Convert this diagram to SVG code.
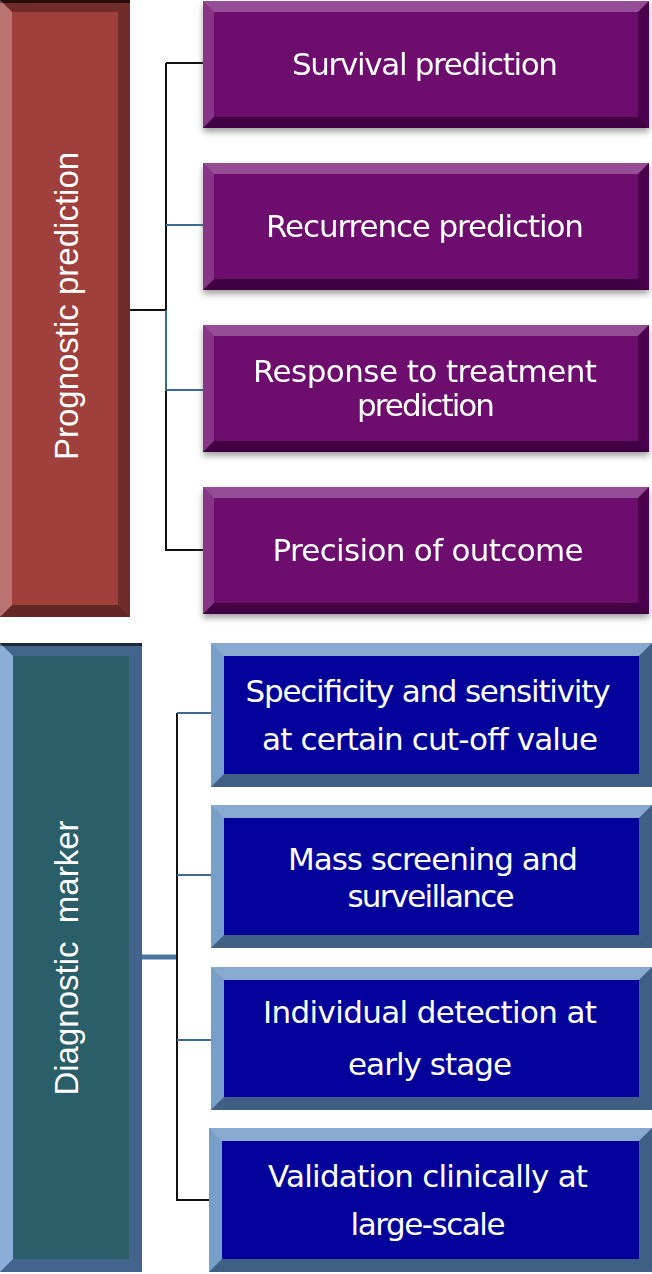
<svg xmlns="http://www.w3.org/2000/svg" width="652" height="1274" viewBox="0 0 652 1274">
<defs>
<filter id="sh" x="-5%" y="-10%" width="110%" height="130%">
<feDropShadow dx="0" dy="4" stdDeviation="3" flood-color="#555" flood-opacity="0.55"/>
</filter>
<style>
.bg{fill:#fff}
.hi{fill:#fff;fill-opacity:.28}
.lhi{fill:#fff;fill-opacity:.18}
.dk{fill:#000;fill-opacity:.3}
.bdk{fill:#000;fill-opacity:.38}
.pu{fill:#6d0a6d}
.nv{fill:#02029b}
.nfr{fill:#5b89bf}
.pr{fill:#a0403c}
.tl{fill:#2a5e69}
.tfr{fill:#5f8fc8}
.t{font-family:"DejaVu Sans","Liberation Sans",sans-serif;font-size:31px;fill:#fff;text-anchor:middle}
.v{font-family:"Liberation Sans",Arial,sans-serif;font-size:33px;fill:#fff;text-anchor:middle;white-space:pre}
.cb{stroke:#111;stroke-width:2;fill:none}
.cs{stroke:#3c6a98;stroke-width:2;fill:none}
.ct{stroke:#4a76a2;stroke-width:5;fill:none}
</style>
</defs>
<rect class="bg" x="0" y="0" width="652" height="1274"/>

<g id="connectors">
<path class="cb" d="M130,310 H166 M166,63 V310 M166,63 H203 M166,390 V550 H203"/>
<path class="cs" d="M166,225 H203 M166,310 V390 H203"/>
<path class="ct" d="M142,957 H177"/>
<path class="cb" d="M177,713 V1200 H211"/>
<path class="cs" d="M177,713 H211 M177,875 H211 M177,1040 H211"/>
</g>

<g id="prognostic">
<rect class="pr" x="0" y="0" width="130" height="617"/>
<polygon class="dk" points="0,0 130,0 118,12 12,12"/>
<rect x="0" y="0" width="130" height="3" fill="#2a0a0a"/>
<polygon class="hi" points="0,0 12,12 12,605 0,617"/>
<polygon class="dk" points="130,0 130,617 118,605 118,12"/>
<polygon class="bdk" points="0,617 12,605 118,605 130,617"/>
<text class="v" transform="translate(78,306) rotate(-90)">Prognostic prediction</text>
</g>

<g id="survival" filter="url(#sh)">
<rect class="pu" x="203" y="1" width="446" height="127"/>
<polygon class="hi" points="203,1 649,1 638,12 214,12"/>
<polygon class="lhi" points="203,1 214,12 214,117 203,128"/>
<polygon class="dk" points="649,1 649,128 638,117 638,12"/>
<polygon class="bdk" points="203,128 214,117 638,117 649,128"/>
<text class="t" x="425" y="75" textLength="266" lengthAdjust="spacing">Survival prediction</text>
</g>

<g id="recurrence" filter="url(#sh)">
<rect class="pu" x="203" y="163" width="446" height="127"/>
<polygon class="hi" points="203,163 649,163 638,174 214,174"/>
<polygon class="lhi" points="203,163 214,174 214,279 203,290"/>
<polygon class="dk" points="649,163 649,290 638,279 638,174"/>
<polygon class="bdk" points="203,290 214,279 638,279 649,290"/>
<text class="t" x="425" y="237" textLength="318" lengthAdjust="spacing">Recurrence prediction</text>
</g>

<g id="response" filter="url(#sh)">
<rect class="pu" x="203" y="325" width="446" height="127"/>
<polygon class="hi" points="203,325 649,325 638,336 214,336"/>
<polygon class="lhi" points="203,325 214,336 214,441 203,452"/>
<polygon class="dk" points="649,325 649,452 638,441 638,336"/>
<polygon class="bdk" points="203,452 214,441 638,441 649,452"/>
<text class="t" x="425" y="382" textLength="344" lengthAdjust="spacing">Response to treatment</text>
<text class="t" x="426" y="416" textLength="138" lengthAdjust="spacing">prediction</text>
</g>

<g id="precision" filter="url(#sh)">
<rect class="pu" x="203" y="487" width="446" height="127"/>
<polygon class="hi" points="203,487 649,487 638,498 214,498"/>
<polygon class="lhi" points="203,487 214,498 214,603 203,614"/>
<polygon class="dk" points="649,487 649,614 638,603 638,498"/>
<polygon class="bdk" points="203,614 214,603 638,603 649,614"/>
<text class="t" x="428" y="561" textLength="311" lengthAdjust="spacing">Precision of outcome</text>
</g>

<g id="diagnostic">
<rect class="tfr" x="0" y="643" width="142" height="629"/>
<rect class="tl" x="13" y="656" width="116" height="603"/>
<polygon class="dk" points="0,643 142,643 129,656 13,656"/>
<rect x="0" y="643" width="142" height="3" fill="#1a2a3a"/>
<polygon class="hi" points="0,643 13,656 13,1259 0,1272"/>
<polygon class="dk" points="142,643 142,1272 129,1259 129,656"/>
<polygon class="dk" points="0,1272 13,1259 129,1259 142,1272"/>
<text class="v" transform="translate(78,958) rotate(-90)">Diagnostic  marker</text>
</g>

<g id="specificity">
<rect class="nfr" x="211" y="643" width="441" height="144"/>
<rect class="nv" x="224" y="656" width="415" height="118"/>
<polygon class="hi" points="211,643 652,643 639,656 224,656"/>
<polygon class="lhi" points="211,643 224,656 224,774 211,787"/>
<polygon class="dk" points="652,643 652,787 639,774 639,656"/>
<polygon class="dk" points="211,787 224,774 639,774 652,787"/>
<text class="t" x="428" y="702" textLength="365" lengthAdjust="spacing">Specificity and sensitivity</text>
<text class="t" x="430" y="750" textLength="336" lengthAdjust="spacing">at certain cut-off value</text>
</g>

<g id="mass">
<rect class="nfr" x="211" y="805" width="441" height="143"/>
<rect class="nv" x="224" y="818" width="415" height="117"/>
<polygon class="hi" points="211,805 652,805 639,818 224,818"/>
<polygon class="lhi" points="211,805 224,818 224,935 211,948"/>
<polygon class="dk" points="652,805 652,948 639,935 639,818"/>
<polygon class="dk" points="211,948 224,935 639,935 652,948"/>
<text class="t" x="433" y="870" textLength="290" lengthAdjust="spacing">Mass screening and</text>
<text class="t" x="431" y="907" textLength="167" lengthAdjust="spacing">surveillance</text>
</g>

<g id="individual">
<rect class="nfr" x="211" y="967" width="441" height="143"/>
<rect class="nv" x="224" y="980" width="415" height="117"/>
<polygon class="hi" points="211,967 652,967 639,980 224,980"/>
<polygon class="lhi" points="211,967 224,980 224,1097 211,1110"/>
<polygon class="dk" points="652,967 652,1110 639,1097 639,980"/>
<polygon class="dk" points="211,1110 224,1097 639,1097 652,1110"/>
<text class="t" x="430" y="1023" textLength="334" lengthAdjust="spacing">Individual detection at</text>
<text class="t" x="430" y="1075" textLength="164" lengthAdjust="spacing">early stage</text>
</g>

<g id="validation">
<rect class="nfr" x="209" y="1128" width="443" height="144"/>
<rect class="nv" x="222" y="1141" width="417" height="118"/>
<polygon class="hi" points="209,1128 652,1128 639,1141 222,1141"/>
<polygon class="lhi" points="209,1128 222,1141 222,1259 209,1272"/>
<polygon class="dk" points="652,1128 652,1272 639,1259 639,1141"/>
<polygon class="dk" points="209,1272 222,1259 639,1259 652,1272"/>
<text class="t" x="428" y="1187" textLength="320" lengthAdjust="spacing">Validation clinically at</text>
<text class="t" x="428" y="1235" textLength="155" lengthAdjust="spacing">large-scale</text>
</g>
</svg>
